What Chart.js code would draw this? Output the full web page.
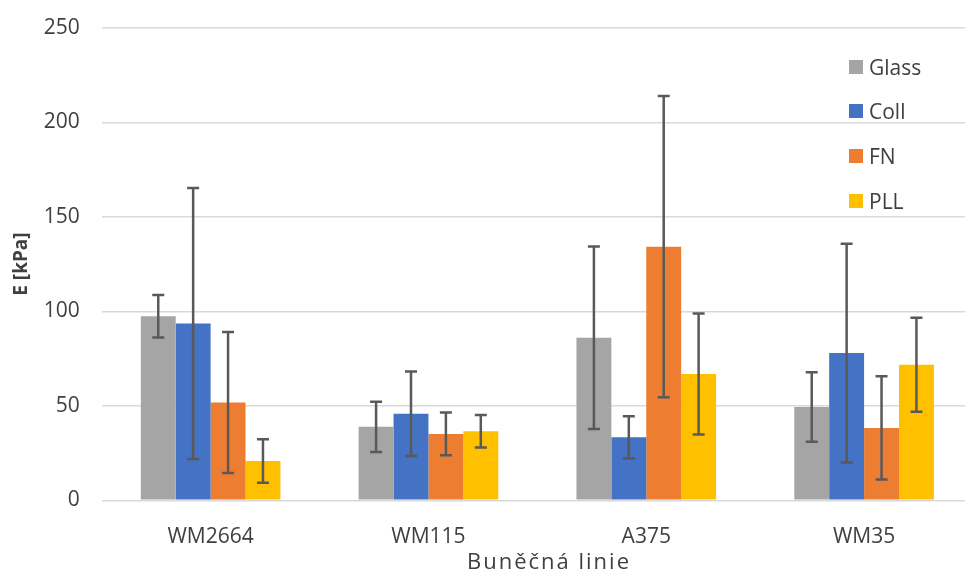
<!DOCTYPE html>
<html>
<head>
<meta charset="utf-8">
<title>E [kPa] – Buněčná linie</title>
<script src="https://cdn.jsdelivr.net/npm/chart.js@4/dist/chart.umd.min.js"></script>
<style>
  html, body { margin: 0; padding: 0; background: #fff; overflow: hidden; }
  #wrap { position: relative; width: 973px; height: 579px; font-family: "Open Sans", sans-serif; color: #404040; }
  .legend { position: absolute; left: 849px; top: 0; font-size: 21px; }
  .legend .item { position: absolute; left: 0; white-space: nowrap; display: flex; align-items: center; height: 30px; }
  .legend .box { width: 14px; height: 14px; margin-right: 6px; }
  .xtitle { position: absolute; left: 549px; top: 545px; transform: translateX(-50%); font-size: 22px; letter-spacing: 2px; white-space: nowrap; line-height: 30px; }
</style>
</head>
<body>
<div id="wrap">
  <canvas id="chart"></canvas>
  <div class="legend" id="legend"></div>
  <div class="xtitle">Buněčná linie</div>
</div>
<script>
// data
const categories = ['WM2664', 'WM115', 'A375', 'WM35'];
const seriesNames = ['Glass', 'Coll', 'FN', 'PLL'];
const glass = [97.4, 38.9, 86.0, 49.4];
const coll  = [93.6, 45.8, 33.3, 77.9];
const fn    = [51.8, 35.1, 134.2, 38.3];
const pll   = [20.8, 36.5, 66.8, 71.7];
const glassErr = [11.2, 13.3, 48.3, 18.4];
const collErr  = [71.7, 22.4, 11.2, 57.9];
const fnErr    = [37.3, 11.3, 79.7, 27.3];
const pllErr   = [11.5, 8.6, 32.0, 24.9];
const yTicks = [0, 50, 100, 150, 200, 250];

const colors = ['#A5A5A5', '#4472C4', '#ED7D31', '#FFC000'];
const values = [glass, coll, fn, pll];
const errors = [glassErr, collErr, fnErr, pllErr];

const FONT = '"Open Sans", sans-serif';
const TXT = '#404040';

// error bars drawn from the y scale
const errorBars = {
  id: 'errorBars',
  afterDatasetsDraw(chart) {
    const ctx = chart.ctx;
    const y = chart.scales.y;
    ctx.save();
    ctx.strokeStyle = '#595959';
    ctx.lineWidth = 2.5;
    chart.data.datasets.forEach((ds, i) => {
      const meta = chart.getDatasetMeta(i);
      meta.data.forEach((bar, j) => {
        const v = ds.data[j], e = ds.errors[j];
        const top = y.getPixelForValue(v + e);
        const bot = y.getPixelForValue(v - e);
        const cap = 6;
        ctx.beginPath();
        ctx.moveTo(bar.x, top); ctx.lineTo(bar.x, bot);
        ctx.moveTo(bar.x - cap, top); ctx.lineTo(bar.x + cap, top);
        ctx.moveTo(bar.x - cap, bot); ctx.lineTo(bar.x + cap, bot);
        ctx.stroke();
      });
    });
    ctx.restore();
  }
};

const chart = new Chart(document.getElementById('chart'), {
  type: 'bar',
  data: {
    labels: categories,
    datasets: seriesNames.map((name, i) => ({
      label: name,
      data: values[i],
      errors: errors[i],
      backgroundColor: colors[i],
      borderWidth: 0,
      barPercentage: 1.0,
      categoryPercentage: 0.641
    }))
  },
  options: {
    responsive: true,
    maintainAspectRatio: false,
    animation: false,
    layout: { padding: { top: 27.8, right: 0, left: 0, bottom: 0 } },
    plugins: { legend: { display: false }, tooltip: { enabled: false } },
    scales: {
      x: {
        grid: { display: false },
        border: { display: false },
        ticks: { color: TXT, font: { family: FONT, size: 21 }, padding: 16 },
        afterFit: s => { s.height = 78.7; }
      },
      y: {
        min: 0, max: 250,
        afterBuildTicks: s => { s.ticks = yTicks.map(v => ({ value: v })); },
        // invisible tick marks give the label gap without extra top padding
        grid: { color: '#D9D9D9', lineWidth: 1.5, drawTicks: true, tickLength: 22, tickColor: 'rgba(0,0,0,0)' },
        border: { display: false },
        ticks: { color: TXT, font: { family: FONT, size: 21 }, padding: 0 },
        title: { display: true, text: 'E [kPa]', color: TXT, font: { family: FONT, size: 19, weight: 'bold' }, padding: { top: 10, bottom: 0 } },
        afterFit: s => { s.width = 101.7; }
      }
    }
  },
  plugins: [errorBars]
});

// legend overlay from the datasets
const legendEl = document.getElementById('legend');
const legendY = [67, 111, 156, 200.5];
chart.data.datasets.forEach((ds, i) => {
  const item = document.createElement('div');
  item.className = 'item';
  item.style.top = (legendY[i] - 15) + 'px';
  item.innerHTML = '<span class="box" style="background:' + ds.backgroundColor + '"></span>' + ds.label;
  legendEl.appendChild(item);
});
</script>
</body>
</html>
